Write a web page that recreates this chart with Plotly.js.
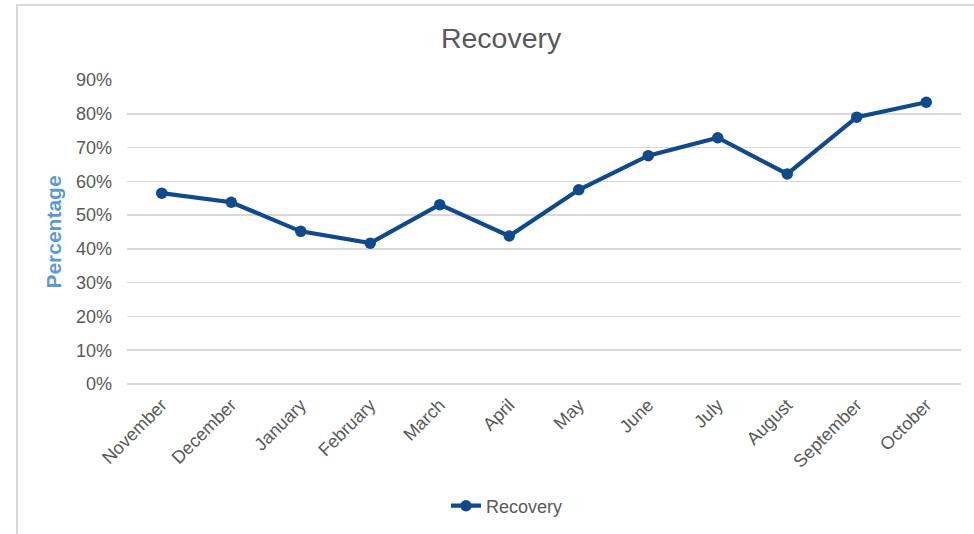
<!DOCTYPE html>
<html>
<head>
<meta charset="utf-8">
<script src="https://cdn.plot.ly/plotly-3.0.1.min.js"></script>
<style>
  html, body { margin: 0; padding: 0; background: #ffffff; }
  #wrap { position: relative; width: 974px; height: 534px; overflow: hidden; }
  #chart { position: absolute; left: 0; top: 0; width: 974px; height: 534px; }
  #frame { position: absolute; left: 16px; top: 4px; width: 970px; height: 540px;
           border-top: 2px solid #d9d9d9; border-left: 2px solid #d9d9d9; pointer-events: none; }
</style>
</head>
<body>
<div id="wrap">
  <div id="chart"></div>
  <div id="frame"></div>
</div>
<script>
const months = ["November", "December", "January", "February", "March", "April",
                "May", "June", "July", "August", "September", "October"];
const recovery = [0.565, 0.538, 0.452, 0.417, 0.531, 0.438,
                  0.575, 0.676, 0.729, 0.622, 0.790, 0.834];
const yTicks = [0, 0.1, 0.2, 0.3, 0.4, 0.5, 0.6, 0.7, 0.8, 0.9];
const yTickText = ["0%", "10%", "20%", "30%", "40%", "50%", "60%", "70%", "80%", "90%"];

const lineColor = "#0f4a8c";
const textColor = "#595959";
const fontFamily = "Liberation Sans, Arial, sans-serif";

const trace = {
  x: months,
  y: recovery,
  type: "scatter",
  mode: "lines+markers",
  name: "Recovery",
  line: { color: lineColor, width: 4.2 },
  marker: { color: lineColor, size: 11.5 }
};

const layout = {
  width: 974,
  height: 534,
  margin: { l: 127, r: 13, t: 80, b: 150 },
  paper_bgcolor: "#ffffff",
  plot_bgcolor: "#ffffff",
  font: { family: fontFamily, color: textColor, size: 18 },
  title: {
    text: "Recovery",
    font: { family: fontFamily, size: 28.5, color: textColor },
    x: 0.5145, xanchor: "center", xref: "container",
    y: 1 - 38 / 534, yanchor: "middle", yref: "container"
  },
  xaxis: {
    type: "category",
    automargin: false,
    range: [-0.5, months.length - 0.5],
    tickangle: -45,
    showgrid: false,
    showline: false,
    zeroline: false,
    ticks: "",
    tickfont: { family: fontFamily, size: 18, color: textColor },
    ticklabelstandoff: 6
  },
  yaxis: {
    automargin: false,
    range: [0, 0.9],
    tickvals: yTicks,
    ticktext: yTickText,
    showgrid: true,
    gridcolor: "#d9d9d9",
    gridwidth: 1.5,
    zeroline: true,
    zerolinecolor: "#d9d9d9",
    zerolinewidth: 1.5,
    showline: false,
    ticks: "",
    ticklabelstandoff: 14,
    tickfont: { family: fontFamily, size: 18, color: textColor },
    title: {
      text: "<b>Percentage</b>",
      font: { family: fontFamily, size: 21, color: "#5b9bd5" },
      standoff: 8
    }
  },
  showlegend: true,
  legend: {
    orientation: "h",
    xref: "container", yref: "container",
    x: 446 / 974, xanchor: "left",
    y: 1 - 506 / 534, yanchor: "middle",
    font: { family: fontFamily, size: 18, color: textColor },
    bgcolor: "rgba(0,0,0,0)"
  }
};

Plotly.newPlot("chart", [trace], layout, { displayModeBar: false, staticPlot: true });
</script>
</body>
</html>
